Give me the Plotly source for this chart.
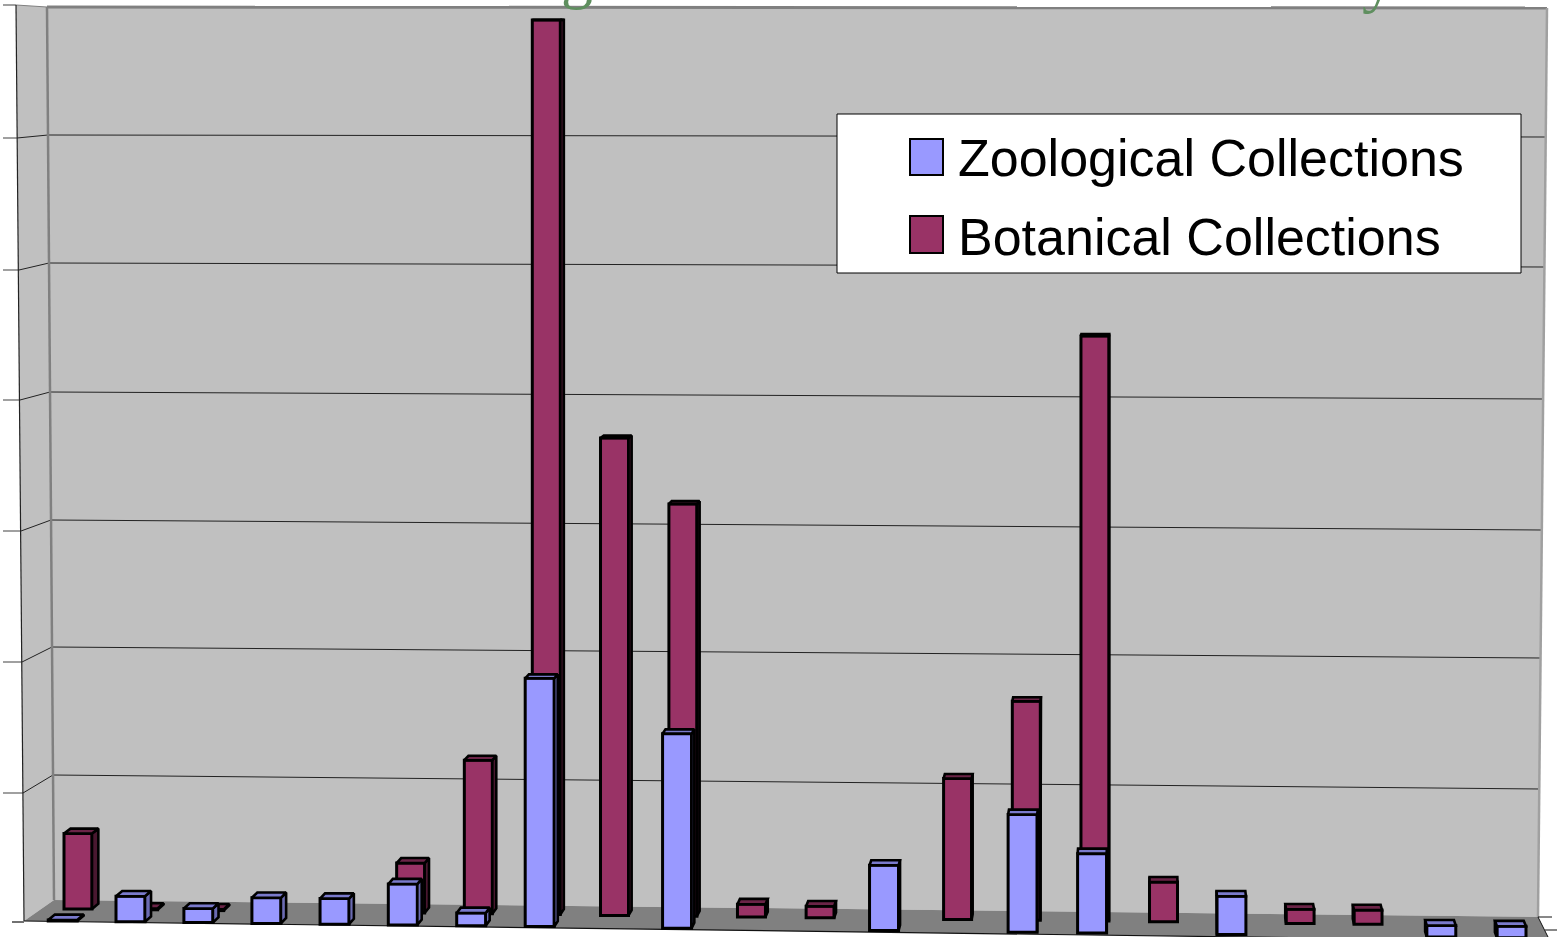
import plotly.graph_objects as go

# Values; one gridline step = 100 units
categories = list(range(1, 23))
zoological = [0.8, 20, 11, 20, 20, 32, 10, 194, None, 152, None, None, 51, None, 92, 62, None, 30, None, None, 9, 9]
botanical = [59, 1, 1, None, None, 39, 120, 699, 373, 322, 10, 9, None, 110, 171, 457, 31, None, 11, 11, None, None]
grid_values = [100, 200, 300, 400, 500, 600, 700]
legend_names = ["Zoological Collections", "Botanical Collections"]
title_fragments = ["g", "y"]

W, H = 1557, 937
PX_PER_UNIT = 1.28
Y_ZERO = 950.0


def Y(py):
    return (Y_ZERO - py) / PX_PER_UNIT


# scene geometry (pixel-based projection of the 3D box)
VP = (1150.0, 20.0)
K = 0.006
front_w, back_w = 29.0, 28.0


def left_front(c):
    return 116 + 68.2 * (c - 2) + 0.0607 * (c - 2) * (c - 8)


def left_back(c):
    return 64 + 66.9 * (c - 1) + 0.083 * (c - 1) * (c - 8) - 0.0073 * (c - 1) * (c - 8) * (c - 20)


def floor_front(c):
    return 921 + 0.8 * (c - 1)


def floor_back(c):
    return 909 + 0.8 * (c - 1)


def deep(px, py):
    return px + K * (VP[0] - px), py + K * (VP[1] - py)


def series_traces(values, left, floor, width, fill, side, top, name, xa, ya):
    xs, bases, hs, ws = [], [], [], []
    sx, sy, tx, ty = [], [], [], []
    for c, v in zip(categories, values):
        if v is None:
            continue
        x0, x1 = left(c), left(c) + width
        yb = floor(c)
        yt = yb - v * PX_PER_UNIT
        xs.append((x0 + x1) / 2)
        bases.append(Y(yb))
        hs.append(v)
        ws.append(width)
        ex = x1 if x1 < VP[0] else x0
        poly = [(ex, yt), (ex, yb), deep(ex, yb), deep(ex, yt), (ex, yt)]
        sx += [p[0] for p in poly] + [None]
        sy += [Y(p[1]) for p in poly] + [None]
        poly = [(x0, yt), (x1, yt), deep(x1, yt), deep(x0, yt), (x0, yt)]
        tx += [p[0] for p in poly] + [None]
        ty += [Y(p[1]) for p in poly] + [None]
    line = dict(color="black", width=2.6)
    return [
        go.Bar(x=xs, y=hs, base=bases, width=ws, name=name, xaxis=xa, yaxis=ya,
               marker=dict(color=fill, line=dict(color="black", width=3)), showlegend=False),
        go.Scatter(x=sx, y=sy, mode="lines", fill="toself", fillcolor=side, line=line,
                   xaxis=xa, yaxis=ya, showlegend=False, hoverinfo="skip"),
        go.Scatter(x=tx, y=ty, mode="lines", fill="toself", fillcolor=top, line=line,
                   xaxis=xa, yaxis=ya, showlegend=False, hoverinfo="skip"),
    ]


fig = go.Figure()
fig.add_traces(series_traces(botanical, left_back, floor_back, back_w, "#993366", "#4A1830", "#6B2447",
                             legend_names[1], "x", "y"))
fig.add_traces(series_traces(zoological, left_front, floor_front, front_w, "#9999FF", "#6B6BB3", "#7A7ACC",
                             legend_names[0], "x2", "y2"))


def poly_path(pts):
    return "M " + " L ".join(f"{x},{Y(y)}" for x, y in pts) + " Z"


def seg(x0, y0, x1, y1, color="#808080", width=1.0):
    return dict(type="line", xref="x", yref="y", x0=x0, y0=Y(y0), x1=x1, y1=Y(y1),
                line=dict(color=color, width=width), layer="below")


shapes = []
# walls and floor
shapes.append(dict(type="path", xref="x", yref="y", layer="below", fillcolor="#C0C0C0", line=dict(width=0),
                   path=poly_path([(16, 5), (47, 7), (54, 900), (24, 921)])))
shapes.append(dict(type="path", xref="x", yref="y", layer="below", fillcolor="#C0C0C0", line=dict(width=0),
                   path=poly_path([(47, 7), (1547, 8), (1538, 917), (54, 900)])))
shapes.append(dict(type="path", xref="x", yref="y", layer="below", fillcolor="#808080", line=dict(width=0),
                   path=poly_path([(54, 900), (1538, 917), (1550, 941), (24, 921)])))
# gridlines on the back wall and the side wall, one per value step
left_ends = {100: (53, 775), 200: (52, 647), 300: (51, 520), 400: (50, 392), 500: (49, 263), 600: (48, 135), 700: (47, 7)}
right_ends = {100: (1540, 789), 200: (1541, 658), 300: (1542, 530), 400: (1543, 399), 500: (1544, 267), 600: (1545, 137), 700: (1547, 8)}
side_ends = {100: (23, 793), 200: (22, 662), 300: (21, 531), 400: (20, 400), 500: (19, 270), 600: (17, 138), 700: (16, 5)}
for g in grid_values:
    lx, ly = left_ends[g]
    rx, ry = right_ends[g]
    sx_, sy_ = side_ends[g]
    col = "#808080" if g == 700 else "#222222"
    wd = 3 if g == 700 else 1.0
    shapes.append(seg(lx, ly, rx, ry, col, wd))
    shapes.append(seg(sx_, sy_, lx, ly, col, 1.0))
    shapes.append(seg(3, sy_, sx_, sy_, "#808080", 1.5))
shapes.append(seg(47, 7, 54, 900, "#808080", 2.5))
shapes.append(seg(1547, 8, 1538, 917, "#A0A0A0", 2.5))
shapes.append(seg(16, 5, 24, 921, "#222222", 1.2))
shapes.append(seg(24, 921, 1550, 941, "#111111", 1.2))
shapes.append(seg(12, 922, 24, 922, "#111111", 1.2))
shapes.append(seg(1538, 917, 1552, 917, "#111111", 1.0))
shapes.append(seg(1545, 930, 1557, 930, "#111111", 1.0))
shapes.append(seg(1538, 917, 1550, 941, "#111111", 1.0))

# legend box
shapes.append(dict(type="rect", xref="x", yref="y", x0=837, x1=1521, y0=Y(114), y1=Y(273),
                   fillcolor="white", line=dict(color="black", width=1), layer="above"))
shapes.append(dict(type="rect", xref="x", yref="y", x0=910, x1=943, y0=Y(139), y1=Y(175),
                   fillcolor="#9999FF", line=dict(color="black", width=2), layer="above"))
shapes.append(dict(type="rect", xref="x", yref="y", x0=910, x1=943, y0=Y(216), y1=Y(253),
                   fillcolor="#993366", line=dict(color="black", width=2), layer="above"))

annotations = [
    dict(x=956, y=Y(158), xref="x", yref="y", text=legend_names[0], showarrow=False, xanchor="left",
         yanchor="middle", font=dict(family="Liberation Sans", size=52, color="black")),
    dict(x=956, y=Y(237), xref="x", yref="y", text=legend_names[1], showarrow=False, xanchor="left",
         yanchor="middle", font=dict(family="Liberation Sans", size=52, color="black")),
    dict(x=577, y=Y(12), xref="x", yref="y", text=title_fragments[0], showarrow=False, xanchor="center",
         yanchor="bottom", font=dict(family="Liberation Serif", size=64, color="#5F8F5F")),
    dict(x=1378, y=Y(16), xref="x", yref="y", text=title_fragments[1], showarrow=False, xanchor="center",
         yanchor="bottom", font=dict(family="Liberation Serif", size=64, color="#5F8F5F")),
]

xr = [0, W]
yr = [Y(H), Y(0)]
hidden = dict(visible=False, showgrid=False, zeroline=False, fixedrange=True)
fig.update_layout(
    width=W, height=H, margin=dict(l=0, r=0, t=0, b=0),
    paper_bgcolor="white", plot_bgcolor="white", barmode="overlay", showlegend=False,
    xaxis=dict(range=xr, **hidden),
    yaxis=dict(range=yr, **hidden),
    xaxis2=dict(range=xr, overlaying="x", **hidden),
    yaxis2=dict(range=yr, overlaying="y", **hidden),
    shapes=shapes, annotations=annotations,
)
fig.write_html("out.html", config={"displayModeBar": False},
               post_script="document.body.style.margin='0';document.body.style.overflow='hidden';")
